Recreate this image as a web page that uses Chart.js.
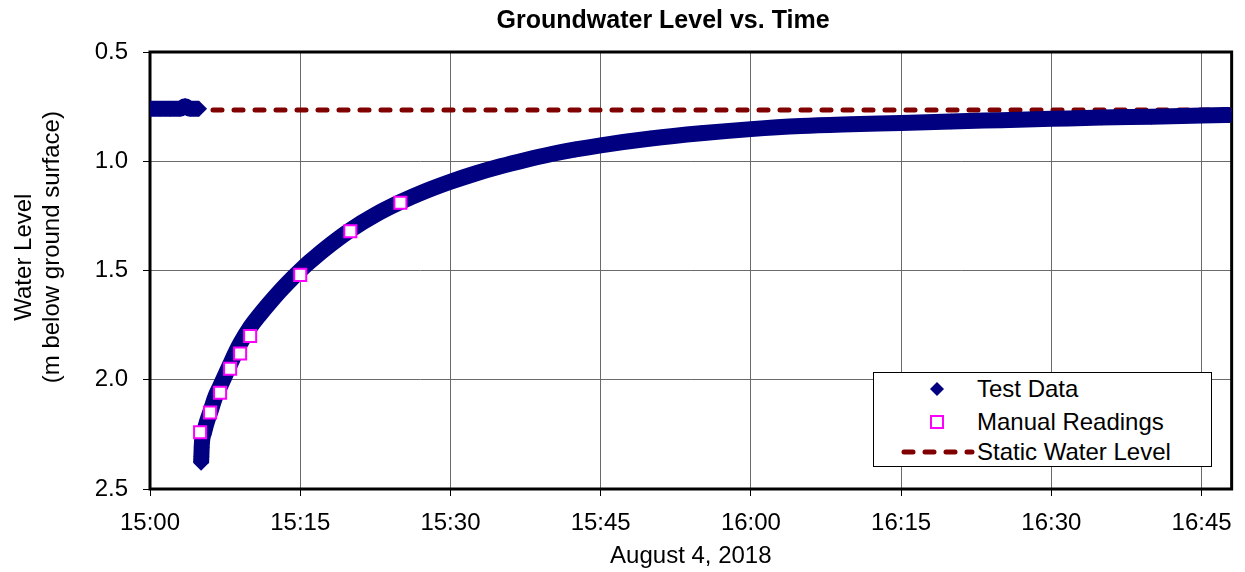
<!DOCTYPE html>
<html>
<head>
<meta charset="utf-8">
<title>Groundwater Level vs. Time</title>
<script src="https://cdn.jsdelivr.net/npm/chart.js@4"></script>
<style>
  body { margin: 0; background: #fff; font-family: "Liberation Sans", Arial, sans-serif; }
  #wrap { position: relative; width: 1245px; height: 572px; }
  #leyenda {
    position: absolute; left: 873px; top: 372px; width: 339px; height: 95px;
    box-sizing: border-box; border: 1px solid #000; background: #fff;
    font-size: 24px; color: #000;
  }
  .fila { position: absolute; left: 0; height: 30px; line-height: 30px; white-space: nowrap; }
  .fila svg { position: absolute; top: 0; }
  .fila span { position: absolute; left: 103px; }
</style>
</head>
<body>
<div id="wrap">
  <canvas id="nivelChart" width="1245" height="572"></canvas>
  <div id="leyenda">
    <div class="fila" style="top:1px">
      <svg style="left:48px" width="30" height="30"><polygon points="15,8 22,15 15,22 8,15" fill="#000080"/></svg>
      <span>Test Data</span>
    </div>
    <div class="fila" style="top:34px">
      <svg style="left:48px" width="30" height="30"><rect x="9" y="9" width="12" height="12" fill="#fff" stroke="#ff00ff" stroke-width="2"/></svg>
      <span>Manual Readings</span>
    </div>
    <div class="fila" style="top:64px">
      <svg style="left:26px" width="76" height="30"><line x1="4" y1="15" x2="72" y2="15" stroke="#800000" stroke-width="5" stroke-linecap="round" stroke-dasharray="9 12"/></svg>
      <span>Static Water Level</span>
    </div>
  </div>
</div>
<script>
// Etiquetas de los ejes
const xTickValues = [0, 15, 30, 45, 60, 75, 90, 105];
const xTickLabels = ['15:00', '15:15', '15:30', '15:45', '16:00', '16:15', '16:30', '16:45'];
const yTickValues = [0.5, 1.0, 1.5, 2.0, 2.5];
const yTickLabels = ['0.5', '1.0', '1.5', '2.0', '2.5'];

// Datos del registrador (minutos desde 15:00, m bajo la superficie); null corta la linea
const testTimes = [0, 1, 2, 3, 3.5, 4, 4.9,
  5.0,
  5.10, 5.13, 5.16, 5.2, 5.4, 5.7, 6.0, 6.5, 7.0, 7.5, 8.0, 8.5, 9.0,
  10, 11, 12, 13, 14, 15, 16, 17.5, 20, 22.5, 25, 27.5, 30, 32.5, 35, 37.5,
  40, 42.5, 45, 50, 55, 60, 65, 70, 75, 80, 85, 90, 95, 100, 105, 107.8];
const testLevels = [0.76, 0.76, 0.76, 0.76, 0.748, 0.76, 0.76,
  null,
  2.38, 2.35, 2.31, 2.28, 2.24, 2.19, 2.15, 2.08, 2.03, 1.98, 1.93, 1.88, 1.835,
  1.76, 1.70, 1.645, 1.593, 1.545, 1.50, 1.458, 1.40, 1.315, 1.245, 1.187, 1.137, 1.094, 1.056, 1.023, 0.994,
  0.968, 0.946, 0.927, 0.896, 0.872, 0.853, 0.839, 0.831, 0.825, 0.818, 0.812, 0.806, 0.800, 0.796, 0.791, 0.788];

// Lecturas manuales
const manualTimes = [5, 6, 7, 8, 9, 10, 15, 20, 25];
const manualLevels = [2.24, 2.15, 2.06, 1.95, 1.88, 1.80, 1.52, 1.32, 1.19];

// Nivel estatico
const staticTimes = [0, 108];
const staticLevels = [0.765, 0.765];

const fuente = "'Liberation Sans', Arial, sans-serif";

function aPuntos(xs, ys) {
    return xs.map((x, i) => ({ x: x, y: ys[i] }));
}

function etiqueta(valores, etiquetas, value) {
    const i = valores.findIndex(v => Math.abs(v - value) < 1e-6);
    return i >= 0 ? etiquetas[i] : '';
}

// Marco negro alrededor del area del grafico
const marcoPlugin = {
    id: 'marco',
    beforeDatasetsDraw(chart) {
        const { ctx, chartArea: a } = chart;
        ctx.save();
        ctx.strokeStyle = '#000';
        ctx.lineWidth = 3;
        ctx.strokeRect(a.left, a.top, a.right - a.left, a.bottom - a.top);
        ctx.restore();
    }
};

new Chart(document.getElementById('nivelChart'), {
    type: 'scatter',
    data: {
        datasets: [
            {
                label: 'Manual Readings',
                data: aPuntos(manualTimes, manualLevels),
                showLine: false,
                pointStyle: 'rect',
                pointRadius: 8.5,
                pointBorderWidth: 2,
                pointBorderColor: '#ff00ff',
                pointBackgroundColor: '#ffffff',
            },
            {
                label: 'Test Data',
                data: aPuntos(testTimes, testLevels),
                showLine: true,
                spanGaps: false,
                borderColor: '#000080',
                borderWidth: 16,
                borderJoinStyle: 'round',
                cubicInterpolationMode: 'monotone',
                pointStyle: 'rectRot',
                pointRadius: 8,
                pointBorderWidth: 0,
                pointBackgroundColor: '#000080',
            },
            {
                label: 'Static Water Level',
                data: aPuntos(staticTimes, staticLevels),
                showLine: true,
                borderColor: '#800000',
                borderWidth: 5,
                borderDash: [9, 12],
                borderCapStyle: 'round',
                pointRadius: 0,
            },
        ],
    },
    options: {
        responsive: false,
        animation: false,
        devicePixelRatio: 1,
        layout: { padding: { left: 0, right: 9, top: 0, bottom: 0 } },
        plugins: {
            legend: { display: false },
            tooltip: { enabled: false },
            title: {
                display: true,
                fullSize: false,
                text: 'Groundwater Level vs. Time        ',
                color: '#000',
                font: { family: fuente, size: 25, weight: 'bold', lineHeight: 1.2 },
                padding: { top: 6, bottom: 16 },
            },
        },
        scales: {
            x: {
                type: 'linear',
                min: 0,
                max: 108,
                afterFit(scale) { scale.height = 83; },
                ticks: {
                    stepSize: 15,
                    includeBounds: false,
                    padding: 13,
                    color: '#000',
                    font: { family: fuente, size: 24 },
                    callback: (value) => etiqueta(xTickValues, xTickLabels, value),
                },
                grid: { color: '#6a6a6a', lineWidth: 1, tickLength: 7, tickColor: '#000' },
                border: { display: false },
                title: {
                    display: true,
                    text: 'August 4, 2018',
                    color: '#000',
                    font: { family: fuente, size: 24, lineHeight: 1.2 },
                    padding: { top: 0, bottom: 1 },
                },
            },
            y: {
                reverse: true,
                min: 0.5,
                max: 2.5,
                afterFit(scale) { scale.width = 150; },
                ticks: {
                    stepSize: 0.5,
                    padding: 15,
                    color: '#000',
                    font: { family: fuente, size: 24 },
                    callback: (value) => etiqueta(yTickValues, yTickLabels, value),
                },
                grid: { color: '#6a6a6a', lineWidth: 1, tickLength: 7, tickColor: '#000' },
                border: { display: false },
                title: {
                    display: true,
                    text: ['    Water Level', '       (m below ground surface)'],
                    color: '#000',
                    font: { family: fuente, size: 24, lineHeight: 1.17 },
                    padding: { top: 10, bottom: 0 },
                },
            },
        },
    },
    plugins: [marcoPlugin],
});
</script>
</body>
</html>
